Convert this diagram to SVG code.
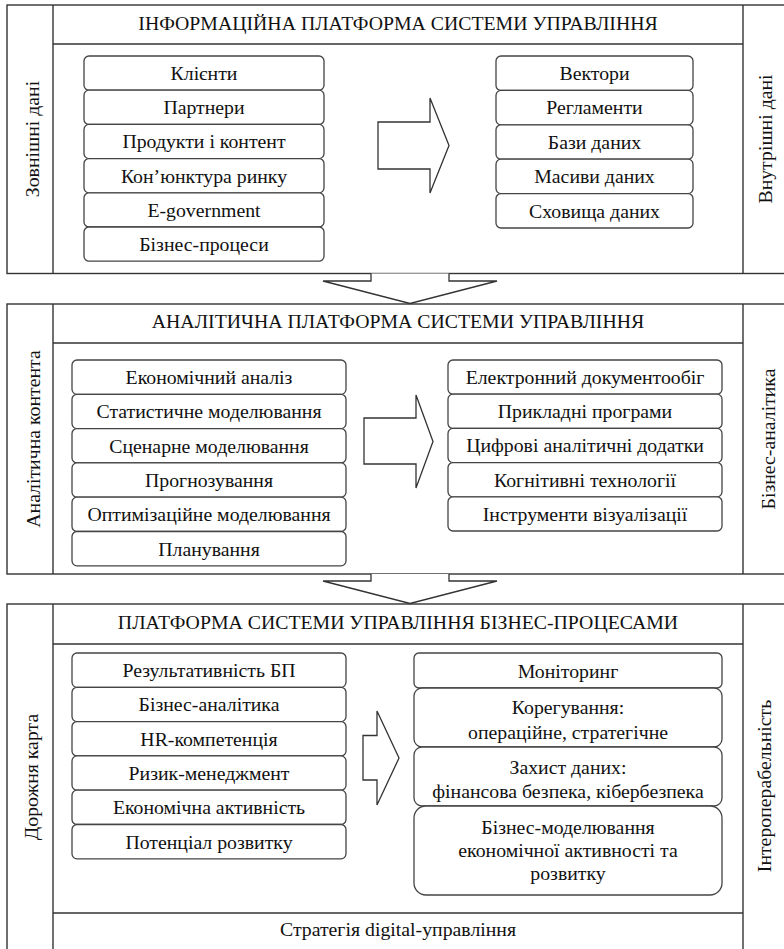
<svg xmlns="http://www.w3.org/2000/svg" width="784" height="949" viewBox="0 0 784 949">
<style>
  .frame{fill:none;stroke:#333;stroke-width:1.4}
  .line{stroke:#333;stroke-width:1.4;fill:none}
  .box{fill:#fff;stroke:#444;stroke-width:1.3}
  .arrow{fill:#fff;stroke:#333;stroke-width:1.3;stroke-linejoin:miter}
  text{font-size:19.8px;fill:#111;text-anchor:middle}
  .hdr{font-size:19.8px}
</style>
<rect width="784" height="949" fill="#fff"/>
<g font-family="'Liberation Serif', 'DejaVu Serif', serif">

<!-- Section 1 -->
<g id="section1">
  <rect class="frame" x="7" y="5" width="790" height="268.5"/>
  <line class="line" x1="53" y1="5" x2="53" y2="273.5"/>
  <line class="line" x1="743" y1="5" x2="743" y2="273.5"/>
  <line class="line" x1="53" y1="44" x2="743" y2="44"/>
  <text class="hdr" x="398" y="29.5">ІНФОРМАЦІЙНА ПЛАТФОРМА СИСТЕМИ УПРАВЛІННЯ</text>
  <text transform="translate(39,139) rotate(-90)">Зовнішні дані</text>
  <text transform="translate(772,139) rotate(-90)">Внутрішні дані</text>
</g>
<g id="s1-left">
  <rect class="box" x="84" y="56" width="240" height="34.2" rx="5"/>
  <rect class="box" x="84" y="90.2" width="240" height="34.2" rx="5"/>
  <rect class="box" x="84" y="124.4" width="240" height="34.2" rx="5"/>
  <rect class="box" x="84" y="158.6" width="240" height="34.2" rx="5"/>
  <rect class="box" x="84" y="192.8" width="240" height="34.2" rx="5"/>
  <rect class="box" x="84" y="227" width="240" height="34.2" rx="5"/>
  <text x="204" y="80">Клієнти</text>
  <text x="204" y="114.2">Партнери</text>
  <text x="204" y="148.4">Продукти і контент</text>
  <text x="204" y="182.6">Кон’юнктура ринку</text>
  <text x="204" y="216.8">E-government</text>
  <text x="204" y="251">Бізнес-процеси</text>
</g>
<g id="s1-right">
  <rect class="box" x="496" y="56" width="197" height="34.4" rx="5"/>
  <rect class="box" x="496" y="90.4" width="197" height="34.4" rx="5"/>
  <rect class="box" x="496" y="124.8" width="197" height="34.4" rx="5"/>
  <rect class="box" x="496" y="159.2" width="197" height="34.4" rx="5"/>
  <rect class="box" x="496" y="193.6" width="197" height="34.4" rx="5"/>
  <text x="594.5" y="80">Вектори</text>
  <text x="594.5" y="114.4">Регламенти</text>
  <text x="594.5" y="148.8">Бази даних</text>
  <text x="594.5" y="183.2">Масиви даних</text>
  <text x="594.5" y="217.6">Сховища даних</text>
</g>

<!-- Section 2 -->
<g id="section2">
  <rect class="frame" x="7" y="304" width="790" height="270"/>
  <line class="line" x1="53" y1="304" x2="53" y2="574"/>
  <line class="line" x1="743" y1="304" x2="743" y2="574"/>
  <line class="line" x1="53" y1="343" x2="743" y2="343"/>
  <text class="hdr" x="398" y="327.5">АНАЛІТИЧНА ПЛАТФОРМА СИСТЕМИ УПРАВЛІННЯ</text>
  <text transform="translate(40,439) rotate(-90)">Аналітична контента</text>
  <text transform="translate(775,439) rotate(-90)">Бізнес-аналітика</text>
</g>
<g id="s2-left">
  <rect class="box" x="72" y="360" width="274" height="34.3" rx="5"/>
  <rect class="box" x="72" y="394.3" width="274" height="34.3" rx="5"/>
  <rect class="box" x="72" y="428.6" width="274" height="34.3" rx="5"/>
  <rect class="box" x="72" y="462.9" width="274" height="34.3" rx="5"/>
  <rect class="box" x="72" y="497.2" width="274" height="34.3" rx="5"/>
  <rect class="box" x="72" y="531.5" width="274" height="34.3" rx="5"/>
  <text x="209" y="384">Економічний аналіз</text>
  <text x="209" y="418.3">Статистичне моделювання</text>
  <text x="209" y="452.6">Сценарне моделювання</text>
  <text x="209" y="486.9">Прогнозування</text>
  <text x="209" y="521.2">Оптимізаційне моделювання</text>
  <text x="209" y="555.5">Планування</text>
</g>
<g id="s2-right">
  <rect class="box" x="448" y="360" width="274" height="34.2" rx="5"/>
  <rect class="box" x="448" y="394.2" width="274" height="34.2" rx="5"/>
  <rect class="box" x="448" y="428.4" width="274" height="34.2" rx="5"/>
  <rect class="box" x="448" y="462.6" width="274" height="34.2" rx="5"/>
  <rect class="box" x="448" y="496.8" width="274" height="34.2" rx="5"/>
  <text x="585" y="384">Електронний документообіг</text>
  <text x="585" y="418.2">Прикладні програми</text>
  <text x="585" y="452.4">Цифрові аналітичні додатки</text>
  <text x="585" y="486.6">Когнітивні технології</text>
  <text x="585" y="520.8">Інструменти візуалізації</text>
</g>

<!-- Section 3 -->
<g id="section3">
  <rect class="frame" x="7" y="604" width="790" height="360"/>
  <line class="line" x1="53" y1="604" x2="53" y2="949"/>
  <line class="line" x1="743" y1="604" x2="743" y2="949"/>
  <line class="line" x1="53" y1="644" x2="743" y2="644"/>
  <line class="line" x1="53" y1="913" x2="743" y2="913"/>
  <text class="hdr" x="398" y="628.5">ПЛАТФОРМА СИСТЕМИ УПРАВЛІННЯ БІЗНЕС-ПРОЦЕСАМИ</text>
  <text transform="translate(38,777) rotate(-90)">Дорожня карта</text>
  <text transform="translate(771,786) rotate(-90)">Інтероперабельність</text>
  <text x="398" y="935.5">Стратегія digital-управління</text>
</g>
<g id="s3-left">
  <rect class="box" x="72" y="653" width="274" height="34.3" rx="5"/>
  <rect class="box" x="72" y="687.3" width="274" height="34.3" rx="5"/>
  <rect class="box" x="72" y="721.6" width="274" height="34.3" rx="5"/>
  <rect class="box" x="72" y="755.9" width="274" height="34.3" rx="5"/>
  <rect class="box" x="72" y="790.2" width="274" height="34.3" rx="5"/>
  <rect class="box" x="72" y="824.5" width="274" height="34.3" rx="5"/>
  <text x="209" y="677">Результативність БП</text>
  <text x="209" y="711.3">Бізнес-аналітика</text>
  <text x="209" y="745.6">HR-компетенція</text>
  <text x="209" y="779.9">Ризик-менеджмент</text>
  <text x="209" y="814.2">Економічна активність</text>
  <text x="209" y="848.5">Потенціал розвитку</text>
</g>
<g id="s3-right">
  <rect class="box" x="414" y="653" width="308" height="35" rx="5"/>
  <rect class="box" x="414" y="688" width="308" height="59" rx="8"/>
  <rect class="box" x="414" y="747" width="308" height="59" rx="8"/>
  <rect class="box" x="414" y="806" width="308" height="89" rx="12"/>
  <text x="568" y="677.5">Моніторинг</text>
  <text x="568" y="713.5">Корегування:</text>
  <text x="568" y="738.5">операційне, стратегічне</text>
  <text x="568" y="773.5">Захист даних:</text>
  <text x="568" y="797.5">фінансова безпека, кібербезпека</text>
  <text x="568" y="833.5">Бізнес-моделювання</text>
  <text x="568" y="856.5">економічної активності та</text>
  <text x="568" y="879.5">розвитку</text>
</g>
</g>

<!-- Connectors -->
<g id="connectors">
  <polygon class="arrow" points="378,122 430,122 430,98 449,145.5 430,193 430,169 378,169"/>
  <polygon class="arrow" points="364,418 416,418 416,395 433,441.5 416,488 416,464 364,464"/>
  <polygon class="arrow" points="363,735.5 377,735.5 377,711 399,758 377,805 377,780 363,780"/>
  <polyline class="arrow" points="371,273.5 371,281 323,281 410,303.5 497,281 449,281 449,273.5"/>
  <polyline class="arrow" points="371,574 371,581 323,581 410,603.5 497,581 449,581 449,574"/>
</g>
</svg>
